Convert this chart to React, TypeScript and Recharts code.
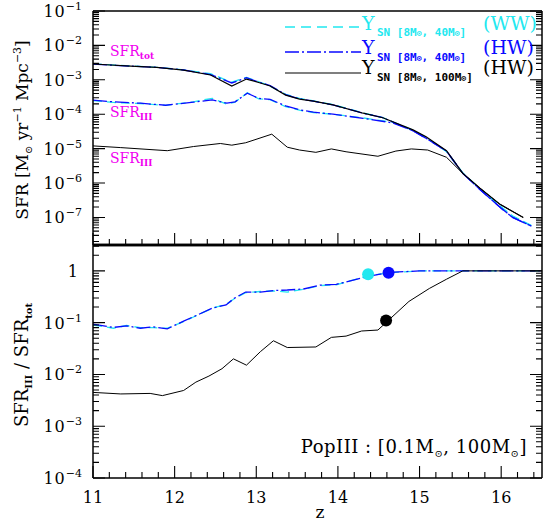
import React from 'react';
import { ComposedChart, Line, XAxis, YAxis, ReferenceLine } from 'recharts';

// ---------------- data ----------------
// SFR_tot (top panel)
const zTot100 = [11.0, 11.46, 11.78, 12.11, 12.44, 12.7, 12.88, 13.05, 13.17, 13.36, 13.53, 13.7, 13.94, 14.31, 14.55, 14.92, 15.08, 15.33, 15.53, 15.74, 15.98, 16.27];
const sfrTot100 = [2.88e-3, 2.51e-3, 2.29e-3, 1.91e-3, 1.38e-3, 6.6e-4, 1.05e-3, 8.1e-4, 6.6e-4, 3.6e-4, 2.75e-4, 2.4e-4, 1.86e-4, 1.07e-4, 7.9e-5, 3.5e-5, 2.2e-5, 8.7e-6, 1.9e-6, 7.1e-7, 2.45e-7, 1.0e-7];

const zTot40 = [11.0, 11.46, 11.78, 12.11, 12.44, 12.7, 12.88, 13.05, 13.17, 13.36, 13.53, 13.7, 13.94, 14.31, 14.55, 14.92, 15.08, 15.33, 15.53, 15.74, 16.0, 16.14, 16.37];
const sfrTotHW = [2.85e-3, 2.5e-3, 2.3e-3, 1.93e-3, 1.42e-3, 8.1e-4, 1.15e-3, 8.3e-4, 6.8e-4, 3.7e-4, 2.8e-4, 2.4e-4, 1.86e-4, 1.07e-4, 7.9e-5, 3.3e-5, 2.0e-5, 8.5e-6, 1.9e-6, 6.5e-7, 1.85e-7, 1.0e-7, 5.6e-8];
const sfrTotWW = [2.9e-3, 2.55e-3, 2.3e-3, 1.95e-3, 1.5e-3, 8.5e-4, 1.18e-3, 8.5e-4, 6.5e-4, 3.8e-4, 2.9e-4, 2.45e-4, 1.9e-4, 1.1e-4, 8.0e-5, 3.4e-5, 2.1e-5, 8.3e-6, 1.95e-6, 6.8e-7, 2.0e-7, 1.1e-7, 5.8e-8];

// SFR_III (top panel)
const zIII40 = [11.0, 11.25, 11.58, 11.89, 12.23, 12.46, 12.64, 12.74, 12.89, 13.03, 13.17, 13.36, 13.54, 13.7, 13.94, 14.31, 14.67, 14.92, 15.08, 15.33, 15.53, 15.74, 16.0, 16.14, 16.37];
const sfrIIIHW = [2.57e-4, 2.29e-4, 2.09e-4, 1.82e-4, 2.24e-4, 2.6e-4, 2.09e-4, 2.29e-4, 4.1e-4, 2.88e-4, 2.69e-4, 1.74e-4, 1.32e-4, 1.15e-4, 1.0e-4, 7.6e-5, 5.6e-5, 3.3e-5, 2.0e-5, 8.5e-6, 1.9e-6, 6.5e-7, 1.85e-7, 1.0e-7, 5.6e-8];
const sfrIIIWW = [2.5e-4, 2.2e-4, 2.05e-4, 1.8e-4, 2.3e-4, 2.9e-4, 1.95e-4, 2.25e-4, 4.2e-4, 2.8e-4, 2.65e-4, 1.65e-4, 1.3e-4, 1.12e-4, 1.0e-4, 7.8e-5, 5.8e-5, 3.4e-5, 2.1e-5, 8.3e-6, 1.95e-6, 6.8e-7, 2.0e-7, 1.1e-7, 5.8e-8];

const zIII100 = [11.0, 11.34, 11.91, 12.23, 12.56, 12.7, 12.87, 13.19, 13.38, 13.53, 13.73, 13.92, 14.1, 14.49, 14.71, 14.9, 15.1, 15.33, 15.53, 15.74, 15.98, 16.27];
const sfrIII100 = [1.2e-5, 1.07e-5, 8.7e-6, 1.15e-5, 1.41e-5, 1.26e-5, 1.48e-5, 2.63e-5, 1.1e-5, 9.1e-6, 7.8e-6, 9.8e-6, 8.1e-6, 6.0e-6, 8.5e-6, 9.8e-6, 9.1e-6, 5.6e-6, 1.9e-6, 7.1e-7, 2.45e-7, 1.0e-7];

// SFR_III / SFR_tot (bottom panel)
const zRatio40 = [11.0, 11.25, 11.41, 11.58, 11.74, 11.91, 12.11, 12.28, 12.46, 12.63, 12.73, 12.87, 13.05, 13.21, 13.38, 13.58, 13.78, 13.98, 14.37, 14.62, 15.0, 15.5, 16.0, 16.5];
const ratioHW = [0.094, 0.081, 0.087, 0.078, 0.083, 0.076, 0.107, 0.141, 0.19, 0.22, 0.295, 0.39, 0.39, 0.417, 0.427, 0.447, 0.53, 0.55, 0.78, 0.93, 1, 1, 1, 1];
const ratioWW = [0.09, 0.078, 0.088, 0.08, 0.08, 0.078, 0.105, 0.14, 0.19, 0.225, 0.29, 0.38, 0.4, 0.41, 0.39, 0.44, 0.52, 0.54, 0.8, 0.92, 1, 1, 1, 1];

const zRatio100 = [11.0, 11.34, 11.7, 11.85, 12.11, 12.26, 12.42, 12.58, 12.72, 12.88, 13.05, 13.21, 13.38, 13.73, 13.92, 14.1, 14.29, 14.49, 14.87, 15.12, 15.33, 15.53, 16.0, 16.5];
const ratio100 = [0.0045, 0.0042, 0.0043, 0.0039, 0.0049, 0.0071, 0.0093, 0.0129, 0.02, 0.0151, 0.0275, 0.0447, 0.0331, 0.0339, 0.052, 0.055, 0.069, 0.072, 0.257, 0.457, 0.69, 1, 1, 1];

// marked points in bottom panel
const markZ = [14.37, 14.62, 14.59];
const markV = [0.86, 0.92, 0.11];
const markColor = ['#22e8f0', '#0a0aff', '#000000'];

// ticks
const xMajor = [11, 12, 13, 14, 15, 16];
const topDecades = [1e-8, 1e-7, 1e-6, 1e-5, 1e-4, 1e-3, 1e-2, 1e-1];
const botDecades = [1e-4, 1e-3, 1e-2, 1e-1, 1];

const TOP_DOMAIN: [number, number] = [1.58e-8, 0.1];
const BOT_DOMAIN: [number, number] = [1e-4, 3.16];
const X_DOMAIN: [number, number] = [11, 16.5];

// plot geometry (page pixels)
const PLOT_L = 93;
const PLOT_R = 542;
const TOP_Y0 = 11;
const TOP_Y1 = 245;
const BOT_Y0 = 245;
const BOT_Y1 = 478;

// ---------------- helpers ----------------
const pairs = (zs: number[], vs: number[]) => zs.map((z, i) => ({ z, v: vs[i] }));

const xTicks: number[] = [];
xMajor.forEach((m) => [0, 0.2, 0.4, 0.6, 0.8].forEach((f) => { if (m + f <= 16.5) xTicks.push(+(m + f).toFixed(1)); }));

const logTicks = (decs: number[], dom: [number, number]) => {
  const out: number[] = [];
  decs.forEach((d) => [1, 2, 3, 4, 5, 6, 7, 8, 9].forEach((k) => {
    const v = d * k;
    if (v >= dom[0] * 0.999 && v <= dom[1] * 1.001) out.push(v);
  }));
  return out;
};
const topYTicks = logTicks(topDecades, TOP_DOMAIN);
const botYTicks = logTicks(botDecades, BOT_DOMAIN);

const FONT = '"DejaVu Serif", serif';
const MONO = '"DejaVu Sans Mono", monospace';
const CYAN = '#22e8f0';
const BLUE = '#0a0aff';
const MAG = '#f000f0';

const isDecade = (v: number) => { const l = Math.log10(v); return Math.abs(l - Math.round(l)) < 1e-6; };
const isInt = (v: number) => Math.abs(v - Math.round(v)) < 1e-6;

const LeftTick = (props: any) => {
  const x = Number(props.x);
  const y = Number(props.y);
  const v = props.payload.value;
  if (!isDecade(v)) return <g />;
  const e = Math.round(Math.log10(v));
  return e === 0 ? (
    <text x={x - 15} y={y + 6} textAnchor="end" fontFamily={FONT} fontSize={16} fill="#000">1</text>
  ) : (
    <text x={x - 11} y={y + 6} textAnchor="end" fontFamily={FONT} fontSize={16} fill="#000" letterSpacing={1}>
      10<tspan dy={-7} fontSize={11} letterSpacing={0}>{'\u2212' + Math.abs(e)}</tspan>
    </text>
  );
};

const XTickBottom = (props: any) => {
  const x = Number(props.x);
  const y = Number(props.y);
  const v = props.payload.value;
  if (!isInt(v)) return <g />;
  return <text x={x} y={y + 25} textAnchor="middle" fontFamily={FONT} fontSize={16} fill="#000">{Math.round(v)}</text>;
};

// inward tick marks for the frame of each panel
const xPx = (z: number) => PLOT_L + ((z - X_DOMAIN[0]) / (X_DOMAIN[1] - X_DOMAIN[0])) * (PLOT_R - PLOT_L);
const yPx = (v: number, dom: [number, number], y0: number, y1: number) =>
  y0 + ((Math.log10(dom[1]) - Math.log10(v)) / (Math.log10(dom[1]) - Math.log10(dom[0]))) * (y1 - y0);

const frameTicks = (yTicks: number[], dom: [number, number], y0: number, y1: number, key: string) => {
  const parts: string[] = [];
  yTicks.forEach((v) => {
    const len = isDecade(v) ? 12 : 6;
    const y = yPx(v, dom, y0, y1);
    parts.push(`M${PLOT_L},${y}h${len}`);
    parts.push(`M${PLOT_R},${y}h${-len}`);
  });
  xTicks.forEach((t) => {
    const len = isInt(t) ? 12 : 6;
    parts.push(`M${xPx(t)},${y1}v${-len}`);
  });
  return <path key={key} d={parts.join('')} stroke="#000" strokeWidth={1.1} fill="none" />;
};

const axisStroke = { stroke: '#000', strokeWidth: 1.5 };

export default function App() {
  return (
    <div style={{ position: 'absolute', left: 0, top: 0, width: 543, height: 529, background: '#fff' }}>
      {/* top panel */}
      <div style={{ position: 'absolute', left: 0, top: 0 }}>
        <ComposedChart width={543} height={250} margin={{ top: 11, right: 1, bottom: 0, left: 0 }}>
          <XAxis dataKey="z" type="number" domain={X_DOMAIN} allowDataOverflow ticks={xTicks} interval={0}
            height={5} tickSize={0} tickMargin={0} tickLine={false} tick={false} axisLine={{ stroke: '#000', strokeWidth: 2.5 }} />
          <YAxis dataKey="v" type="number" scale="log" domain={TOP_DOMAIN} allowDataOverflow ticks={topYTicks} interval={0}
            width={93} tickSize={0} tickMargin={0} tickLine={false} tick={LeftTick} axisLine={axisStroke} />
          <ReferenceLine y={TOP_DOMAIN[1]} stroke="#000" strokeWidth={1.5} ifOverflow="visible" />
          <ReferenceLine x={X_DOMAIN[1]} stroke="#000" strokeWidth={1.5} ifOverflow="visible" />
          <Line data={pairs(zTot40, sfrTotWW)} dataKey="v" type="linear" stroke={CYAN} strokeWidth={1.3} strokeDasharray="9 5" dot={false} activeDot={false} isAnimationActive={false} />
          <Line data={pairs(zIII40, sfrIIIWW)} dataKey="v" type="linear" stroke={CYAN} strokeWidth={1.3} strokeDasharray="9 5" dot={false} activeDot={false} isAnimationActive={false} />
          <Line data={pairs(zTot40, sfrTotHW)} dataKey="v" type="linear" stroke={BLUE} strokeWidth={1.3} strokeDasharray="14 3 2 3" dot={false} activeDot={false} isAnimationActive={false} />
          <Line data={pairs(zIII40, sfrIIIHW)} dataKey="v" type="linear" stroke={BLUE} strokeWidth={1.3} strokeDasharray="14 3 2 3" dot={false} activeDot={false} isAnimationActive={false} />
          <Line data={pairs(zTot100, sfrTot100)} dataKey="v" type="linear" stroke="#000" strokeWidth={1.2} dot={false} activeDot={false} isAnimationActive={false} />
          <Line data={pairs(zIII100, sfrIII100)} dataKey="v" type="linear" stroke="#000" strokeWidth={1} dot={false} activeDot={false} isAnimationActive={false} />
        </ComposedChart>
      </div>

      {/* bottom panel */}
      <div style={{ position: 'absolute', left: 0, top: 240 }}>
        <ComposedChart width={543} height={289} margin={{ top: 5, right: 1, bottom: 0, left: 0 }}>
          <XAxis dataKey="z" type="number" domain={X_DOMAIN} allowDataOverflow ticks={xTicks} interval={0}
            height={51} tickSize={0} tickMargin={0} tickLine={false} tick={XTickBottom} axisLine={axisStroke} />
          <YAxis dataKey="v" type="number" scale="log" domain={BOT_DOMAIN} allowDataOverflow ticks={botYTicks} interval={0}
            width={93} tickSize={0} tickMargin={0} tickLine={false} tick={LeftTick} axisLine={axisStroke} />
          <ReferenceLine y={BOT_DOMAIN[1]} stroke="#000" strokeWidth={2.5} ifOverflow="visible" />
          <ReferenceLine x={X_DOMAIN[1]} stroke="#000" strokeWidth={1.5} ifOverflow="visible" />
          <Line data={pairs(zRatio40, ratioWW)} dataKey="v" type="linear" stroke={CYAN} strokeWidth={1.3} strokeDasharray="9 5" dot={false} activeDot={false} isAnimationActive={false} />
          <Line data={pairs(zRatio40, ratioHW)} dataKey="v" type="linear" stroke={BLUE} strokeWidth={1.3} strokeDasharray="14 3 2 3" dot={false} activeDot={false} isAnimationActive={false} />
          <Line data={pairs(zRatio100, ratio100)} dataKey="v" type="linear" stroke="#000" strokeWidth={1} dot={false} activeDot={false} isAnimationActive={false} />
          {markZ.map((z, i) => (
            <Line key={i} data={[{ z, v: markV[i] }]} dataKey="v" stroke="none" isAnimationActive={false} activeDot={false}
              dot={{ r: 6, fill: markColor[i], stroke: 'none' }} />
          ))}
        </ComposedChart>
      </div>

      {/* overlay: frame ticks and texts */}
      <svg width={543} height={529} style={{ position: 'absolute', left: 0, top: 0, pointerEvents: 'none' }}>
        {frameTicks(topYTicks, TOP_DOMAIN, TOP_Y0, TOP_Y1, 'ft')}
        {frameTicks(botYTicks, BOT_DOMAIN, BOT_Y0, BOT_Y1, 'fb')}
        <g fontFamily={FONT} fill="#000">
          <text transform="translate(28,130) rotate(-90)" textAnchor="middle" fontSize={17}>
            SFR [M<tspan dy={4} fontSize={10}>{'\u2299'}</tspan>
            <tspan dy={-4}> yr</tspan><tspan dy={-7} fontSize={11}>{'\u22121'}</tspan>
            <tspan dy={7}> Mpc</tspan><tspan dy={-7} fontSize={11}>{'\u22123'}</tspan>
            <tspan dy={7}>]</tspan>
          </text>
          <text transform="translate(28,365) rotate(-90)" textAnchor="middle" fontSize={18}>
            SFR<tspan dy={4} fontSize={10} fontWeight="bold">III</tspan>
            <tspan dy={-4}> / SFR</tspan><tspan dy={4} fontSize={10} fontWeight="bold">tot</tspan>
          </text>
          <text x={320} y={518} textAnchor="middle" fontSize={17}>z</text>
          <text x={527} y={453} textAnchor="end" fontSize={18} letterSpacing={0.5}>
            PopIII : [0.1M<tspan dy={4} fontSize={10}>{'\u2299'}</tspan><tspan dy={-4}>, 100M</tspan>
            <tspan dy={4} fontSize={10}>{'\u2299'}</tspan><tspan dy={-4}>]</tspan>
          </text>
        </g>
        <g fontFamily={FONT} fill={MAG} fontSize={14}>
          <text x={110} y={56}>SFR<tspan dy={3} fontSize={9} fontWeight="bold">tot</tspan></text>
          <text x={110} y={117}>SFR<tspan dy={3} fontSize={9} fontWeight="bold">III</tspan></text>
          <text x={110} y={163}>SFR<tspan dy={3} fontSize={9} fontWeight="bold">III</tspan></text>
        </g>
        {/* legend */}
        <g>
          <line x1={285} x2={361} y1={27} y2={27} stroke={CYAN} strokeWidth={1.3} strokeDasharray="10 6" />
          <text x={362} y={30} fontFamily={FONT} fontSize={19} fill={CYAN}>Y</text>
          <text x={377} y={36} fontFamily={MONO} fontWeight="bold" fontSize={11} fill={CYAN}>SN [8M<tspan fontSize={8}>{'\u2299'}</tspan>, 40M<tspan fontSize={8}>{'\u2299'}</tspan>]</text>
          <text x={483} y={30} fontFamily={FONT} fontSize={19} fill={CYAN}>(WW)</text>

          <line x1={285} x2={361} y1={52} y2={52} stroke={BLUE} strokeWidth={1.3} strokeDasharray="14 3 2 3" />
          <text x={362} y={54} fontFamily={FONT} fontSize={19} fill={BLUE}>Y</text>
          <text x={377} y={61} fontFamily={MONO} fontWeight="bold" fontSize={11} fill={BLUE}>SN [8M<tspan fontSize={8}>{'\u2299'}</tspan>, 40M<tspan fontSize={8}>{'\u2299'}</tspan>]</text>
          <text x={483} y={54} fontFamily={FONT} fontSize={19} fill={BLUE}>(HW)</text>

          <line x1={285} x2={361} y1={73} y2={73} stroke="#000" strokeWidth={1.2} />
          <text x={362} y={74} fontFamily={FONT} fontSize={19} fill="#000">Y</text>
          <text x={377} y={81} fontFamily={MONO} fontWeight="bold" fontSize={11} fill="#000">SN [8M<tspan fontSize={8}>{'\u2299'}</tspan>, 100M<tspan fontSize={8}>{'\u2299'}</tspan>]</text>
          <text x={483} y={74} fontFamily={FONT} fontSize={19} fill="#000">(HW)</text>
        </g>
      </svg>
    </div>
  );
}
